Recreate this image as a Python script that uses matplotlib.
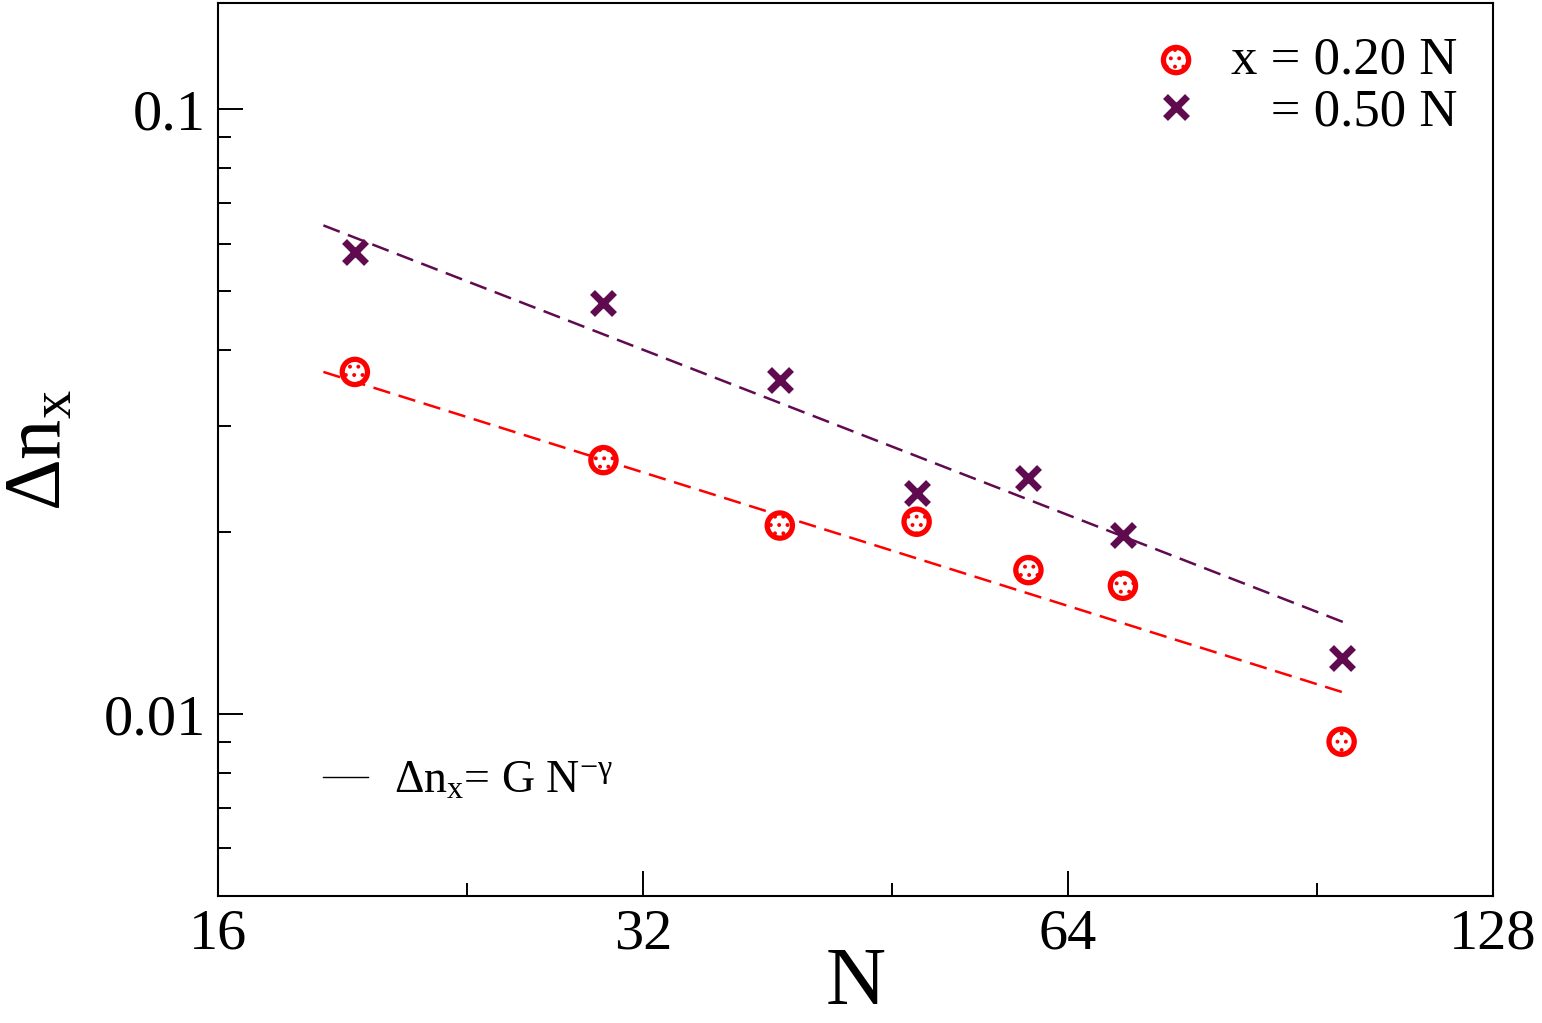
import matplotlib
matplotlib.use("Agg")
import matplotlib.pyplot as plt
from matplotlib.ticker import FixedLocator, NullFormatter, FixedFormatter
from matplotlib.lines import Line2D

plt.rcParams['font.family'] = ['Liberation Serif', 'DejaVu Serif']
plt.rcParams['mathtext.fontset'] = 'custom'
plt.rcParams['mathtext.rm'] = 'Liberation Serif'
plt.rcParams['mathtext.it'] = 'Liberation Serif:italic'
plt.rcParams['hatch.color'] = 'red'
plt.rcParams['hatch.linewidth'] = 1.6

# data
N = [20, 30, 40, 50, 60, 70, 100]
dn_020 = [0.0368, 0.0263, 0.0205, 0.0208, 0.0173, 0.0163, 0.0090]
dn_050 = [0.0580, 0.0478, 0.0357, 0.0232, 0.0246, 0.0198, 0.0124]

# fitted power laws (end points of the dashed lines)
fit_N = [19, 101]
fit_020 = [0.0368, 0.0108]
fit_050 = [0.0643, 0.0141]

x_major = [16, 32, 64, 128]
x_minor = [24, 48, 96]
y_major = [0.01, 0.1]
y_minor = [0.006, 0.007, 0.008, 0.009, 0.02, 0.03, 0.04, 0.05, 0.06, 0.07, 0.08, 0.09]

red = '#ff0000'
purple = '#600a50'

fig = plt.figure(figsize=(15.42, 10.23), dpi=100)
ax = fig.add_axes([0.1414, 0.1241, 0.8268, 0.8730])

ax.plot(fit_N, fit_050, color=purple, lw=1.8, ls=(0, (7, 3.5)))
ax.plot(fit_N, fit_020, color=red, lw=1.8, ls=(0, (7, 3.5)))

circ = ax.scatter(N, dn_020, s=330, facecolor='white', edgecolor=red,
                  linewidth=3.8, hatch='..', zorder=3)
cross, = ax.plot(N, dn_050, ls='none', marker='x', ms=16, mew=5,
                 color=purple, zorder=3)

ax.set_xscale('log', base=2)
ax.set_yscale('log')
ax.set_xlim(16, 128)
ax.set_ylim(0.005, 0.15)

ax.xaxis.set_major_locator(FixedLocator(x_major))
ax.xaxis.set_major_formatter(FixedFormatter([str(v) for v in x_major]))
ax.xaxis.set_minor_locator(FixedLocator(x_minor))
ax.xaxis.set_minor_formatter(NullFormatter())
ax.yaxis.set_major_locator(FixedLocator(y_major))
ax.yaxis.set_major_formatter(FixedFormatter(['0.01', '0.1']))
ax.yaxis.set_minor_locator(FixedLocator(y_minor))
ax.yaxis.set_minor_formatter(NullFormatter())

ax.tick_params(which='both', direction='in', top=False, right=False, width=1.4)
ax.tick_params(which='major', length=18, labelsize=42, pad=9)
ax.tick_params(which='minor', length=9.4)
for sp in ax.spines.values():
    sp.set_linewidth(1.5)

ax.set_xlabel('N', fontsize=60, labelpad=-10)
ax.set_ylabel('Δn$_\\mathregular{x}$', fontsize=58, labelpad=18)

leg1 = ax.legend([circ, cross], ['x = 0.20 N', '   = 0.50 N'],
                 loc='upper left', bbox_to_anchor=(0.739, 0.962),
                 frameon=False, fontsize=38, handlelength=0.6,
                 handletextpad=0.75, labelspacing=0.07, borderpad=0,
                 borderaxespad=0)
ax.add_artist(leg1)

fit_handle = Line2D([], [], color='black', lw=1.0)
ax.legend([fit_handle], ['Δn$_\\mathregular{x}$= G N$^{\\mathregular{-γ}}$'],
          loc='upper left', bbox_to_anchor=(0.082, 0.152),
          frameon=False, fontsize=33, handlelength=1.0,
          handletextpad=0.55, borderpad=0, borderaxespad=0)

fig.savefig('out.png', dpi=100)
